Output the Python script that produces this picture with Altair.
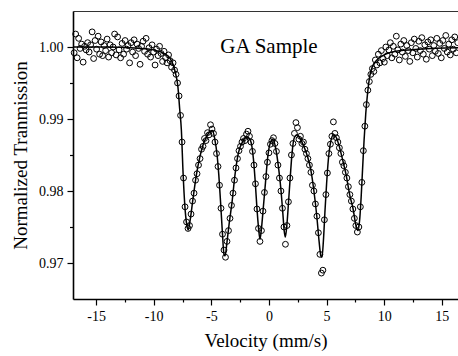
import altair as alt
import pandas as pd

# Measured transmission (open circles)
vel = [-16.90, -16.77, -16.64, -16.51, -16.38, -16.25, -16.12, -15.99, -15.86, -15.73,
       -15.60, -15.47, -15.34, -15.21, -15.08, -14.95, -14.82, -14.69, -14.56, -14.43,
       -14.30, -14.17, -14.04, -13.91, -13.78, -13.65, -13.52, -13.39, -13.26, -13.13,
       -13.00, -12.87, -12.74, -12.61, -12.48, -12.35, -12.22, -12.09, -11.96, -11.83,
       -11.70, -11.57, -11.44, -11.31, -11.18, -11.05, -10.92, -10.79, -10.66, -10.53,
       -10.40, -10.27, -10.14, -10.01, -9.88, -9.75, -9.62, -9.49, -9.36, -9.23,
       -9.10, -8.97, -8.84, -8.71, -8.58, -8.45, -8.32, -8.19, -8.06, -7.93,
       -7.80, -7.67, -7.54, -7.41, -7.28, -7.15, -7.02, -6.89, -6.76, -6.63,
       -6.50, -6.37, -6.24, -6.11, -5.98, -5.85, -5.72, -5.59, -5.46, -5.33,
       -5.20, -5.07, -4.94, -4.81, -4.68, -4.55, -4.42, -4.29, -4.16, -4.03,
       -3.90, -3.77, -3.64, -3.51, -3.38, -3.25, -3.12, -2.99, -2.86, -2.73,
       -2.60, -2.47, -2.34, -2.21, -2.08, -1.95, -1.82, -1.69, -1.56, -1.43,
       -1.30, -1.17, -1.04, -0.91, -0.78, -0.65, -0.52, -0.39, -0.26, -0.13,
       0.00, 0.13, 0.26, 0.39, 0.52, 0.65, 0.78, 0.91, 1.04, 1.17,
       1.30, 1.43, 1.56, 1.69, 1.82, 1.95, 2.08, 2.21, 2.34, 2.47,
       2.60, 2.73, 2.86, 2.99, 3.12, 3.25, 3.38, 3.51, 3.64, 3.77,
       3.90, 4.03, 4.16, 4.29, 4.42, 4.55, 4.68, 4.81, 4.94, 5.07,
       5.20, 5.33, 5.46, 5.59, 5.72, 5.85, 5.98, 6.11, 6.24, 6.37,
       6.50, 6.63, 6.76, 6.89, 7.02, 7.15, 7.28, 7.41, 7.54, 7.67,
       7.80, 7.93, 8.06, 8.19, 8.32, 8.45, 8.58, 8.71, 8.84, 8.97,
       9.10, 9.23, 9.36, 9.49, 9.62, 9.75, 9.88, 10.01, 10.14, 10.27,
       10.40, 10.53, 10.66, 10.79, 10.92, 11.05, 11.18, 11.31, 11.44, 11.57,
       11.70, 11.83, 11.96, 12.09, 12.22, 12.35, 12.48, 12.61, 12.74, 12.87,
       13.00, 13.13, 13.26, 13.39, 13.52, 13.65, 13.78, 13.91, 14.04, 14.17,
       14.30, 14.43, 14.56, 14.69, 14.82, 14.95, 15.08, 15.21, 15.34, 15.47,
       15.60, 15.73, 15.86, 15.99, 16.12, 16.25, 16.38]

trans = [0.9992, 1.0018, 0.9985, 1.0012, 0.9998, 1.0004, 0.9979, 1.0001, 0.9996, 1.0006,
         0.9993, 1.0003, 1.0021, 0.9984, 1.0009, 0.9997, 1.0015, 0.9990, 1.0007, 0.9988,
         1.0002, 0.9995, 1.0011, 0.9986, 1.0003, 0.9992, 1.0000, 1.0018, 0.9989, 1.0014,
         0.9996, 0.9985, 1.0005, 0.9990, 1.0009, 0.9997, 1.0002, 0.9978, 1.0006, 0.9993,
         1.0010, 0.9988, 1.0004, 0.9998, 0.9976, 1.0001, 1.0008, 0.9994, 1.0012, 0.9990,
         0.9999, 0.9986, 1.0003, 0.9993, 0.9975, 0.9997, 0.9988, 1.0001, 0.9991, 0.9980,
         0.9994, 0.9985, 0.9978, 0.9989, 0.9981, 0.9972, 0.9978, 0.9968, 0.9962, 0.9950,
         0.9932, 0.9905, 0.9868, 0.9818, 0.9778, 0.9757, 0.9748, 0.9752, 0.9768, 0.9786,
         0.9797, 0.9815, 0.9824, 0.9836, 0.9845, 0.9858, 0.9862, 0.9873, 0.9870, 0.9881,
         0.9878, 0.9892, 0.9886, 0.9880, 0.9868, 0.9852, 0.9834, 0.9808, 0.9776, 0.9740,
         0.9718, 0.9708, 0.9730, 0.9745, 0.9762, 0.9780, 0.9797, 0.9815, 0.9832, 0.9845,
         0.9856, 0.9862, 0.9868, 0.9873, 0.9870, 0.9879, 0.9883, 0.9876, 0.9868, 0.9855,
         0.9836, 0.9810, 0.9775, 0.9748, 0.9730, 0.9745, 0.9772, 0.9798, 0.9820, 0.9840,
         0.9853, 0.9865, 0.9870, 0.9874, 0.9866, 0.9855, 0.9836, 0.9818, 0.9800, 0.9776,
         0.9750, 0.9726, 0.9752, 0.9785, 0.9818, 0.9850, 0.9866, 0.9880, 0.9895, 0.9888,
         0.9872, 0.9876, 0.9866, 0.9868, 0.9858, 0.9852, 0.9845, 0.9836, 0.9826, 0.9808,
         0.9800, 0.9782, 0.9765, 0.9742, 0.9712, 0.9686, 0.9690, 0.9760, 0.9795, 0.9825,
         0.9852, 0.9865, 0.9876, 0.9896, 0.9880, 0.9874, 0.9868, 0.9860, 0.9852, 0.9840,
         0.9835, 0.9826, 0.9818, 0.9806, 0.9795, 0.9786, 0.9775, 0.9762, 0.9752, 0.9743,
         0.9750, 0.9778, 0.9812, 0.9856, 0.9890, 0.9920, 0.9940, 0.9952, 0.9962, 0.9970,
         0.9966, 0.9982, 0.9975, 0.9990, 0.9978, 0.9995, 0.9984, 0.9979, 1.0000, 0.9988,
         0.9996, 1.0006, 0.9985, 1.0001, 0.9990, 1.0015, 0.9996, 0.9982, 1.0004, 0.9993,
         1.0009, 0.9987, 1.0002, 0.9995, 0.9980, 1.0006, 0.9992, 1.0011, 0.9998, 0.9986,
         1.0008, 0.9995, 1.0013, 0.9990, 1.0003, 0.9983, 1.0007, 0.9997, 1.0010, 0.9988,
         1.0002, 0.9994, 1.0012, 0.9991, 1.0005, 0.9985, 1.0009, 0.9998, 1.0016, 0.9993,
         1.0004, 0.9989, 1.0010, 0.9997, 1.0014, 0.9992, 1.0006]

# Fitted curve (solid line)
fit_v = [-17.0, -14.0, -12.0, -10.0, -9.0, -8.6, -8.3, -8.1, -7.9, -7.75,
         -7.6, -7.45, -7.3, -7.15, -7.0, -6.85, -6.6, -6.3, -6.0, -5.7,
         -5.4, -5.1, -4.9, -4.7, -4.5, -4.35, -4.2, -4.05, -3.9, -3.8,
         -3.65, -3.45, -3.2, -2.95, -2.65, -2.3, -1.9, -1.6, -1.35, -1.2,
         -1.05, -0.9, -0.78, -0.65, -0.5, -0.3, -0.1, 0.1, 0.35, 0.6,
         0.85, 1.05, 1.2, 1.32, 1.42, 1.55, 1.7, 1.85, 2.0, 2.2,
         2.45, 2.8, 3.2, 3.6, 3.9, 4.15, 4.35, 4.5, 4.6, 4.72,
         4.87, 5.0, 5.15, 5.35, 5.6, 5.85, 6.1, 6.35, 6.7, 7.0,
         7.3, 7.55, 7.72, 7.88, 8.0, 8.12, 8.25, 8.4, 8.55, 8.75,
         9.0, 9.3, 10.0, 11.0, 13.0, 17.0]
fit_t = [1.0000, 1.0000, 0.9999, 0.9996, 0.9990, 0.9985, 0.9975, 0.9963, 0.9945, 0.9915,
         0.9885, 0.9825, 0.9780, 0.9755, 0.9746, 0.9758, 0.9788, 0.9822, 0.9847, 0.9865,
         0.9876, 0.9883, 0.9884, 0.9872, 0.9850, 0.9822, 0.9785, 0.9745, 0.9712, 0.9710,
         0.9728, 0.9755, 0.9785, 0.9822, 0.9853, 0.9868, 0.9875, 0.9870, 0.9845, 0.9815,
         0.9778, 0.9748, 0.9733, 0.9748, 0.9775, 0.9812, 0.9848, 0.9866, 0.9872, 0.9858,
         0.9830, 0.9800, 0.9770, 0.9745, 0.9736, 0.9752, 0.9785, 0.9820, 0.9852, 0.9874,
         0.9878, 0.9870, 0.9855, 0.9832, 0.9800, 0.9765, 0.9730, 0.9710, 0.9708, 0.9730,
         0.9775, 0.9810, 0.9843, 0.9868, 0.9878, 0.9874, 0.9862, 0.9846, 0.9822, 0.9795,
         0.9775, 0.9752, 0.9745, 0.9762, 0.9792, 0.9830, 0.9870, 0.9908, 0.9935, 0.9960,
         0.9974, 0.9981, 0.9989, 0.9994, 0.9997, 0.9999]

x_major = [-15, -10, -5, 0, 5, 10, 15]
x_minor = [-12.5, -7.5, -2.5, 2.5, 7.5, 12.5]
y_major = [0.97, 0.98, 0.99, 1.00]
y_minor = [0.975, 0.985, 0.995]

label_text = ["GA Sample"]

pts = pd.DataFrame({"v": vel, "t": trans})
fit = pd.DataFrame({"v": fit_v, "t": fit_t})
lbl = pd.DataFrame({"v": [0.0], "t": [1.0], "txt": label_text})

FONT = "Liberation Serif"
xs = alt.Scale(domain=[-17, 16.4], nice=False, zero=False)
ys = alt.Scale(domain=[0.965, 1.005], nice=False, zero=False)

x_main = alt.Axis(orient="bottom", values=x_major, title="Velocity (mm/s)",
                  labelExpr="datum.value < 0 ? '-' + abs(datum.value) : '' + datum.value",
                  tickSize=6, tickWidth=1.2, tickColor="black",
                  domainColor="black", domainWidth=1.6,
                  labelFont=FONT, labelFontSize=14, labelColor="black", labelPadding=4,
                  titleFont=FONT, titleFontSize=19, titleFontWeight="normal",
                  titleColor="black", titlePadding=8, grid=False)
y_main = alt.Axis(orient="left", values=y_major, format=".2f", title="Normalized Tranmission",
                  tickSize=6, tickWidth=1.2, tickColor="black",
                  domainColor="black", domainWidth=1.6,
                  labelFont=FONT, labelFontSize=14, labelColor="black", labelPadding=4,
                  titleFont=FONT, titleFontSize=19, titleFontWeight="normal",
                  titleColor="black", titlePadding=8, grid=False)

points = alt.Chart(pts).mark_point(shape="circle", filled=False, size=34,
                                   strokeWidth=1, color="black", opacity=1).encode(
    x=alt.X("v:Q", scale=xs, axis=x_main),
    y=alt.Y("t:Q", scale=ys, axis=y_main),
)

x_min_ax = alt.Axis(orient="bottom", values=x_minor, labels=False, domain=False,
                    tickSize=3, tickWidth=1.2, tickColor="black", title=None, grid=False)
y_min_ax = alt.Axis(orient="left", values=y_minor, labels=False, domain=False,
                    tickSize=3.5, tickWidth=1.2, tickColor="black", title=None, grid=False)

line = alt.Chart(fit).mark_line(color="black", strokeWidth=1.5,
                                interpolate="monotone", clip=True).encode(
    x=alt.X("v:Q", scale=xs, axis=x_min_ax),
    y=alt.Y("t:Q", scale=ys, axis=y_min_ax),
)

x_top_ax = alt.Axis(orient="top", values=[], labels=False, ticks=False,
                    domainColor="#333333", domainWidth=1.2, title=None, grid=False)

text = alt.Chart(lbl).mark_text(font=FONT, fontSize=21, color="black",
                                baseline="alphabetic", align="center", dy=6).encode(
    x=alt.X("v:Q", scale=xs, axis=x_top_ax),
    y=alt.Y("t:Q", scale=ys, axis=None),
    text="txt:N",
)

chart = alt.layer(points, line, text).resolve_axis(
    x="independent", y="independent"
).properties(
    width=385, height=288,
    autosize=alt.AutoSizeParams(type="none"),
    padding={"left": 73, "top": 11, "right": 0, "bottom": 57},
).configure_view(stroke=None).configure(background="white")

chart.save("out.html", embed_options={"renderer": "svg", "actions": False})
